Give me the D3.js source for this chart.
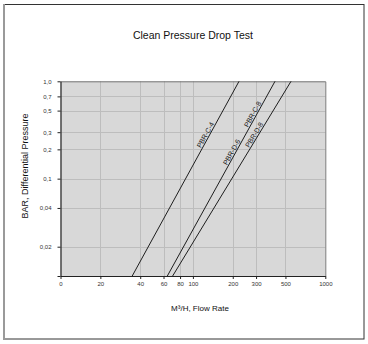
<!DOCTYPE html>
<html>
<head>
<meta charset="utf-8">
<script src="https://cdn.jsdelivr.net/npm/d3@7"></script>
<style>
  html, body { margin: 0; padding: 0; background: #fff; }
  svg { display: block; }
  text { font-family: "Liberation Sans", Arial, sans-serif; }
</style>
</head>
<body>
<svg id="chart" width="368" height="344"></svg>
<script>
// Filter models and the flow (m³/h) each reaches at 0.01 bar and at 1.0 bar
const seriesNames = ["PBR-C-4", "PBR-D-6", "PBR-C-8", "PBR-D-8"];
const flowAtLowDp = [34.8, 64.1, 64.1, 70.3];   // flow at 0.01 bar
const flowAtHighDp = [223, 417, 417, 551];      // flow at 1.0 bar

// Axis ticks and their printed labels
const xTickValues = [10, 20, 40, 60, 80, 100, 200, 300, 500, 1000];
const xTickLabels = ["0", "20", "40", "60", "80", "100", "200", "300", "500", "1000"];
const yTickValues = [0.01, 0.02, 0.05, 0.1, 0.2, 0.3, 0.5, 0.7, 1.0];
const yTickLabels = ["", "0,02", "0,04", "0,1", "0,2", "0,3", "0,5", "0,7", "1,0"];

const titleText = "Clean Pressure Drop Test";
const xTitleText = "M³/H, Flow Rate";
const yTitleText = "BAR, Differential Pressure";

// Pressure along each curve where its name is written
const labelPressure = [0.27, 0.18, 0.44, 0.27];

const svg = d3.select("#chart");
const plot = { left: 60.5, right: 325.3, top: 81.3, bottom: 276 };

const x = d3.scaleLog().domain([10, 1000]).range([plot.left, plot.right]);
const y = d3.scaleLog().domain([0.01, 1]).range([plot.bottom, plot.top]);

// outer frame
svg.append("rect")
  .attr("x", 3.5).attr("y", 4.5).attr("width", 360.5).attr("height", 334.5)
  .attr("fill", "#fff").attr("stroke", "#333").attr("stroke-width", 1);
svg.append("line")
  .attr("x1", 4).attr("x2", 4).attr("y1", 4).attr("y2", 339.5)
  .attr("stroke", "#9a9a9a").attr("stroke-width", 2);

// plot background
svg.append("rect")
  .attr("x", plot.left).attr("y", plot.top)
  .attr("width", plot.right - plot.left).attr("height", plot.bottom - plot.top)
  .attr("fill", "#d8d8d8");

// grid
const grid = svg.append("g").attr("stroke", "#bdbdbd").attr("stroke-width", 1);
grid.selectAll("line.v").data(xTickValues.slice(1, -1)).join("line")
  .attr("class", "v")
  .attr("x1", d => Math.round(x(d)) + 0.5).attr("x2", d => Math.round(x(d)) + 0.5)
  .attr("y1", plot.top).attr("y2", plot.bottom);
grid.selectAll("line.h").data(yTickValues.slice(1, -1)).join("line")
  .attr("class", "h")
  .attr("y1", d => Math.round(y(d)) + 0.5).attr("y2", d => Math.round(y(d)) + 0.5)
  .attr("x1", plot.left).attr("x2", plot.right);

// plot border (top / right)
svg.append("path")
  .attr("d", `M${plot.left},${plot.top + 0.5}H${plot.right + 0.5}V${plot.bottom}`)
  .attr("fill", "none").attr("stroke", "#777").attr("stroke-width", 1);

// axes
const xAxis = d3.axisBottom(x)
  .tickValues(xTickValues)
  .tickFormat((d, i) => xTickLabels[i])
  .tickSizeInner(3).tickSizeOuter(0).tickPadding(3);
const gx = svg.append("g").attr("transform", `translate(0,${plot.bottom})`).call(xAxis);

const yAxis = d3.axisLeft(y)
  .tickValues(yTickValues)
  .tickFormat((d, i) => yTickLabels[i])
  .tickSizeInner(3).tickSizeOuter(0).tickPadding(6);
const gy = svg.append("g").attr("transform", `translate(${plot.left},0)`).call(yAxis);

[gx, gy].forEach(g => {
  g.select(".domain").attr("stroke", "#222").attr("stroke-width", 1.2);
  g.selectAll(".tick line").attr("stroke", "#222");
  g.selectAll(".tick text")
    .attr("fill", "#333")
    .style("font-family", "'Liberation Sans', Arial, sans-serif")
    .style("font-size", "6px");
});

// curves: straight on log-log axes between 0.01 bar and 1.0 bar
const line = d3.line().x(d => x(d.q)).y(d => y(d.p));
const curves = seriesNames.map((name, i) => ({
  name,
  pts: [{ q: flowAtLowDp[i], p: 0.01 }, { q: flowAtHighDp[i], p: 1.0 }]
}));

// models with identical curves share one stroke
const strokes = curves.filter((c, i, all) =>
  all.findIndex(o => o.pts[0].q === c.pts[0].q && o.pts[1].q === c.pts[1].q) === i);

svg.append("g").selectAll("path").data(strokes).join("path")
  .attr("d", d => line(d.pts))
  .attr("fill", "none").attr("stroke", "#1e1e1e").attr("stroke-width", 1);

// curve names written along each curve
svg.append("g").selectAll("text").data(curves).join("text")
  .attr("transform", (d, i) => {
    const [a, b] = d.pts;
    const k = Math.log(labelPressure[i] / a.p) / Math.log(b.p / a.p);
    const q = Math.exp(Math.log(a.q) + k * (Math.log(b.q) - Math.log(a.q)));
    const px = x(q), py = y(labelPressure[i]);
    const ang = Math.atan2(y(b.p) - y(a.p), x(b.q) - x(a.q)) * 180 / Math.PI;
    return `translate(${px},${py}) rotate(${ang})`;
  })
  .attr("dy", -1.2)
  .attr("text-anchor", "middle")
  .attr("fill", "#222")
  .style("font-size", "7px")
  .text(d => d.name);

// titles
svg.append("text")
  .attr("x", (plot.left + plot.right) / 2).attr("y", 39)
  .attr("text-anchor", "middle").attr("fill", "#111")
  .style("font-size", "10.5px")
  .text(titleText);

svg.append("text")
  .attr("x", 200).attr("y", 311)
  .attr("text-anchor", "middle").attr("fill", "#111")
  .style("font-size", "8px")
  .text(xTitleText);

svg.append("text")
  .attr("transform", "translate(28,166) rotate(-90)")
  .attr("text-anchor", "middle").attr("fill", "#111")
  .style("font-size", "9px")
  .text(yTitleText);
</script>
</body>
</html>
